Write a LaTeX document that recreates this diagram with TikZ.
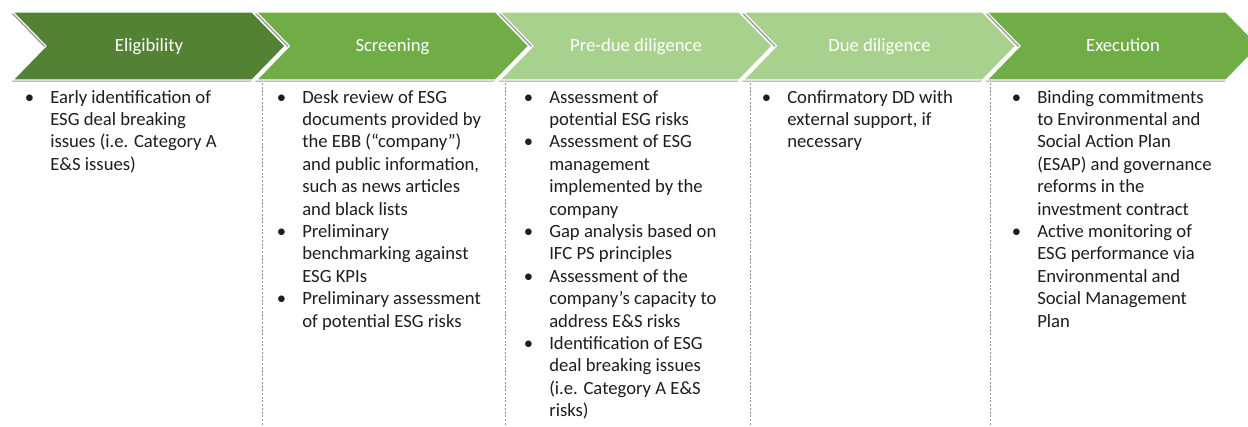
\documentclass[tikz,border=0pt]{standalone}
\usepackage{fontspec}
\setmainfont{Carlito}
\definecolor{gDark}{HTML}{548235}
\definecolor{gMid}{HTML}{70AD47}
\definecolor{gLight}{HTML}{A9D18E}
\definecolor{bodytxt}{HTML}{1E1E1E}
\newcommand\bl{\leavevmode\llap{\textbullet\hspace{12pt}}}
\tikzset{
  chevfill/.style={draw=white, line width=0.8pt, line join=miter},
  chevshadow/.style={fill=gray!75, draw=none},
  hdr/.style={text=white, font=\fontsize{14}{16}\selectfont, anchor=base, inner sep=0pt},
  body/.style={anchor=base west, inner sep=0pt, text=bodytxt},
  sepline/.style={draw=gray!85, dash pattern=on 1.6pt off 1.2pt, line width=0.5pt}
}
\newcommand\colbox[1]{\parbox[t]{175pt}{\fontsize{14}{16.8}\selectfont #1}}
\begin{document}
\begin{tikzpicture}[x=0.75pt, y=-0.75pt]
\path[use as bounding box, clip] (0,0) rectangle (1248,426);
\fill[white] (0,0) rectangle (1248,426);
% chevrons
\foreach \i/\col/\lab in {0/gDark/Eligibility, 1/gMid/Screening, 2/gLight/Pre-due diligence, 3/gLight/Due diligence, 4/gMid/Execution}{
  \pgfmathsetmacro\L{13+243.5*\i}
  \pgfmathsetmacro\R{\L+239}
  \pgfmathsetmacro\T{\R+33}
  \pgfmathsetmacro\N{\L+33}
  \pgfmathsetmacro\C{(\L+\T)/2}
  \path[chevshadow] ({\L-1.5},13.5) -- ({\R-1.5},13.5) -- ({\T-1.5},47.5) -- ({\R-1.5},81.5) -- ({\L-1.5},81.5) -- ({\N-1.5},47.5) -- cycle;
  \path[chevfill, fill=\col] (\L,12) -- (\R,12) -- (\T,46) -- (\R,80) -- (\L,80) -- (\N,46) -- cycle;
  \node[hdr] (h\i) at (\C,51) {\lab};
}
% separators
\draw[sepline] (262,83) -- (262,426);
\draw[sepline] (505,83) -- (505,426);
\draw[sepline] (750,83) -- (750,426);
\draw[sepline] (990,83) -- (990,426);
% column texts
\node[body] (c1) at (50,103) {\colbox{\bl Early identification of\\ESG deal breaking\\issues (i.e. Category A\\E\&S issues)}};
\node[body] (c2) at (302,103) {\colbox{\bl Desk review of ESG\\documents provided by\\the EBB (“company”)\\and public information,\\such as news articles\\and black lists\\\bl Preliminary\\benchmarking against\\ESG KPIs\\\bl Preliminary assessment\\of potential ESG risks}};
\node[body] (c3) at (549,103) {\colbox{\bl Assessment of\\potential ESG risks\\\bl Assessment of ESG\\management\\implemented by the\\company\\\bl Gap analysis based on\\IFC PS principles\\\bl Assessment of the\\company’s capacity to\\address E\&S risks\\\bl Identification of ESG\\deal breaking issues\\(i.e. Category A E\&S\\risks)}};
\node[body] (c4) at (787,103) {\colbox{\bl Confirmatory DD with\\external support, if\\necessary}};
\node[body] (c5) at (1037,103) {\colbox{\bl Binding commitments\\to Environmental and\\Social Action Plan\\(ESAP) and governance\\reforms in the\\investment contract\\\bl Active monitoring of\\ESG performance via\\Environmental and\\Social Management\\Plan}};
\end{tikzpicture}
\end{document}
